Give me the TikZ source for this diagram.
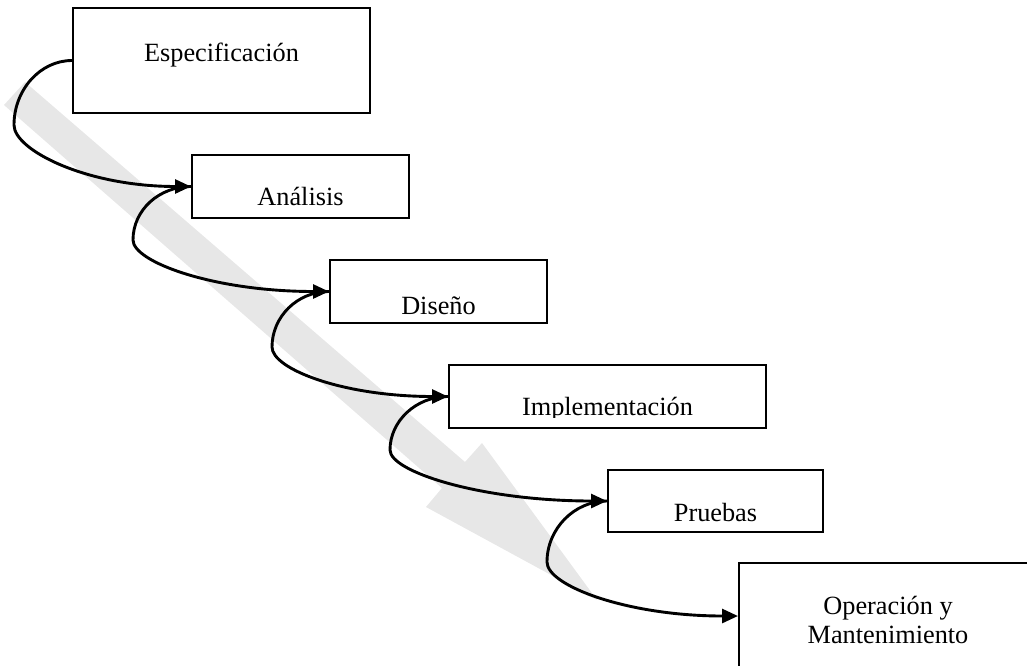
\documentclass[tikz,border=0pt]{standalone}
\usepackage{fontspec}
\setmainfont{Liberation Serif}
\usetikzlibrary{arrows.meta}
\definecolor{flowgray}{RGB}{231,231,231}
\begin{document}
\begin{tikzpicture}[x=1pt,y=-1pt,
  stagebox/.style={draw=black,line width=2pt,fill=white,inner sep=0pt,rectangle},
  stagetext/.style={anchor=base,inner sep=0pt,font=\fontsize{26.3}{29}\selectfont,align=center},
  conn/.style={draw=black,line width=2.9pt,-{Triangle[length=16pt,width=14pt]}}]
\useasboundingbox (0,0) rectangle (1027,665);
\clip (0,0) rectangle (1027,665);

% broad grey arrow showing the overall flow
\fill[flowgray] (25,82) -- (465,462) -- (482,443) -- (597,600)
  -- (426,507) -- (442,488) -- (4,105) -- cycle;

% stage boxes
\node[stagebox,minimum width=297pt,minimum height=105pt] (esp) at (221.5,60.5) {};
\node[stagebox,minimum width=217pt,minimum height=63pt] (ana) at (300.5,186.5) {};
\node[stagebox,minimum width=217pt,minimum height=63pt] (dis) at (438.5,291.5) {};
\node[stagebox,minimum width=317pt,minimum height=63pt] (imp) at (607.5,396.5) {};
\node[stagebox,minimum width=215pt,minimum height=62pt] (pru) at (715.5,501) {};
\node[stagebox,minimum width=298pt,minimum height=106pt] (op) at (888,616) {};

% stage labels
\node[stagetext] (espT) at (221.5,61) {Especificación};
\node[stagetext] (anaT) at (300.5,205) {Análisis};
\node[stagetext] (disT) at (438.5,314) {Diseño};
\begin{scope}
  \clip (449,365) rectangle (766,417);
  \node[stagetext] (impT) at (607.5,415) {Implementación};
\end{scope}
\node[stagetext] (pruT) at (715.5,521) {Pruebas};
\node[stagetext] (opT) at (888,614) {Operación y};
\node[stagetext] (opT2) at (888,643) {Mantenimiento};

% turning points of the connectors
\coordinate (l1) at (14,125);
\coordinate (l2) at (133,240);
\coordinate (l3) at (272,347);
\coordinate (l4) at (390,450);
\coordinate (l5) at (547,562);

% curved connectors between consecutive stages
\draw[conn] (esp.west) .. controls +(-32,0) and +(0,-35) .. (l1)
  .. controls +(0,25) and +(-105,0) .. (ana.west);
\draw[conn] (ana.west) .. controls +(-32,0) and +(0,-30) .. (l2)
  .. controls +(0,22) and +(-115,0) .. (dis.west);
\draw[conn] (dis.west) .. controls +(-32,0) and +(0,-30) .. (l3)
  .. controls +(0,22) and +(-105,0) .. (imp.west);
\draw[conn] (imp.west) .. controls +(-32,0) and +(0,-29) .. (l4)
  .. controls +(0,22) and +(-125,0) .. (pru.west);
\draw[conn] (pru.west) .. controls +(-33,0) and +(0,-33) .. (l5)
  .. controls +(0,24) and +(-110,0) .. (op.west);
\end{tikzpicture}
\end{document}
